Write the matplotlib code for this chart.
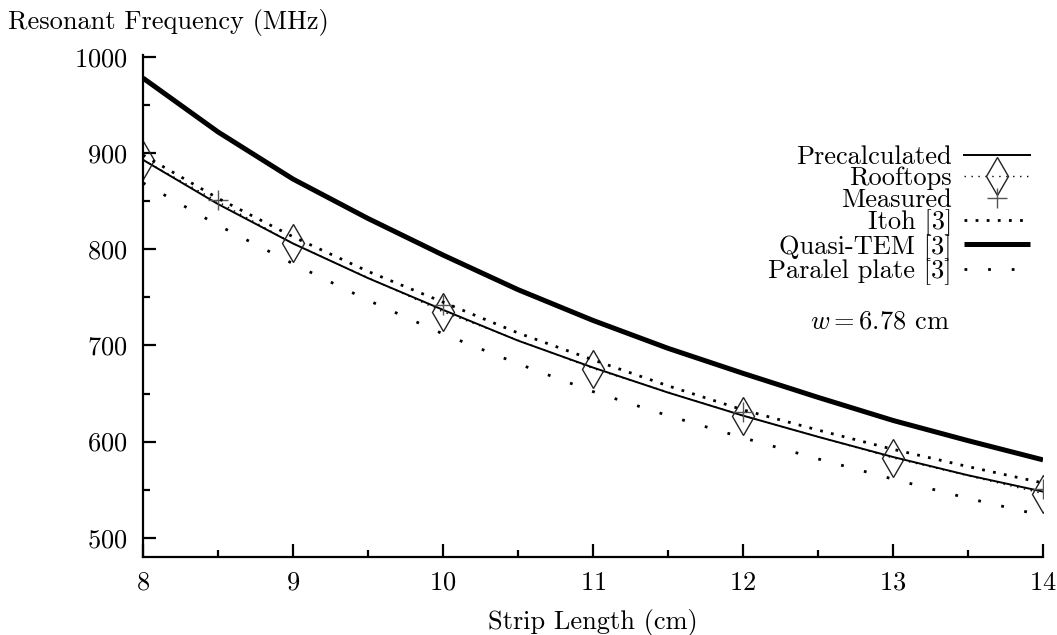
import matplotlib
matplotlib.use('Agg')
import matplotlib.pyplot as plt
import numpy as np

plt.rcParams['font.family'] = ['cmr10']
plt.rcParams['mathtext.fontset'] = 'cm'
plt.rcParams['axes.unicode_minus'] = False
plt.rcParams['axes.formatter.use_mathtext'] = True

# strip length (cm)
L = [8.0, 8.5, 9.0, 9.5, 10.0, 10.5, 11.0, 11.5, 12.0, 12.5, 13.0, 13.5, 14.0]

precalc = [893, 847, 806, 770, 737, 705, 677, 651, 627, 605, 584, 565, 548]
itoh = [898, 853, 813, 777, 745, 713, 685, 658, 633, 612, 592, 574, 557]
quasi_tem = [978, 922, 873, 832, 794, 758, 726, 697, 671, 646, 622, 601, 581]
paralel = [869, 825, 785, 747, 712, 681, 652, 627, 604, 582, 561, 541, 523]

L_roof = [8, 9, 10, 11, 12, 13, 14]
rooftops = [893, 806, 735, 676, 627, 583, 546]

L_meas = [8.5, 10, 12, 14]
measured = [851, 742, 631, 551]

fs = 19

fig = plt.figure(figsize=(10.57, 6.35), dpi=100)
ax = fig.add_axes([143/1057, 78/635, 900/1057, 502/635])

ax.plot(L, precalc, color='black', lw=1.4, label='Precalculated')
ax.plot(L_roof, rooftops, color='black', lw=1.0, ls=(0, (1, 4)),
        marker='d', ms=19, mfc='none', mec='#222222', mew=1.0, label='Rooftops')
ax.plot(L_meas, measured, ls='none', marker='+', ms=14, mew=1.0,
        color='#555555', label='Measured')
ax.plot(L, itoh, color='black', lw=2.0, ls=(0, (1, 3)), dash_capstyle='butt',
        label='Itoh [3]')
ax.plot(L, quasi_tem, color='black', lw=3.6, solid_capstyle='butt', label='Quasi-TEM [3]')
ax.plot(L, paralel, color='black', lw=2.0, ls=(0, (1, 7.5)), dash_capstyle='butt',
        label='Paralel plate [3]')

ax.set_xlim(8, 14)
ax.set_ylim(480, 1002)
ax.set_xticks(range(8, 15))
ax.set_xticks(np.arange(8.5, 14, 1), minor=True)
ax.set_yticks(range(500, 1001, 100))
ax.set_yticks(range(550, 1000, 100), minor=True)

for s in ['top', 'right']:
    ax.spines[s].set_visible(False)
for s in ['left', 'bottom']:
    ax.spines[s].set_linewidth(1.6)
ax.tick_params(which='major', direction='in', length=9.5, width=1.6,
               labelsize=fs, pad=10)
ax.tick_params(which='minor', direction='in', length=5, width=1.6)
ax.tick_params(axis='y', which='major', pad=11)

fig.text(8/1057, 1 - 22/635, 'Resonant Frequency (MHz)', fontsize=fs,
         ha='left', va='center')
ax.set_xlabel('Strip Length (cm)', fontsize=fs, labelpad=10)

leg = ax.legend(loc='upper right', bbox_to_anchor=(0.997, 0.841), frameon=False,
                markerfirst=False, fontsize=fs, handlelength=2.5,
                handletextpad=0.45, labelspacing=-0.09, borderaxespad=0,
                numpoints=1)

ax.text(0.819, 0.468, r'$w = 6.78$ cm', transform=ax.transAxes, fontsize=fs,
        ha='center', va='center')

fig.savefig('out.png', dpi=100)
